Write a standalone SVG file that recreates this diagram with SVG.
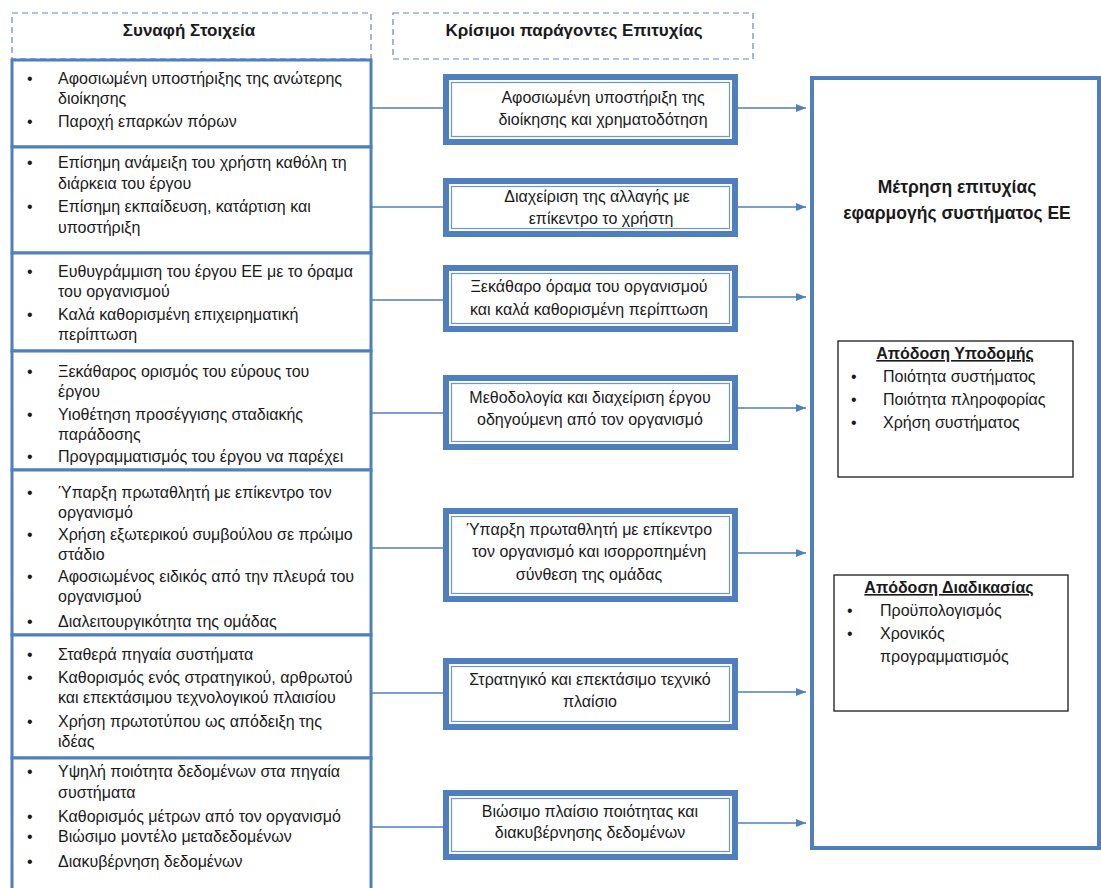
<svg xmlns="http://www.w3.org/2000/svg" width="1101" height="888" viewBox="0 0 1101 888">
  <style>
    .hdr { fill: none; stroke: #5b89c4; stroke-width: 1.2; stroke-dasharray: 6 4; }
    .ctx { fill: #ffffff; stroke: #4f7fbd; stroke-width: 3; }
    .csf-out { fill: #ffffff; stroke: #4f7fbd; stroke-width: 6; }
    .csf-in { fill: none; stroke: #6b97cc; stroke-width: 1.2; }
    .big { fill: #ffffff; stroke: #4f7fbd; stroke-width: 4; }
    .sub { fill: #ffffff; stroke: #1a1a1a; stroke-width: 1.3; }
    .conn { stroke: #4f7fbd; stroke-width: 1.6; fill: none; }
    text { font-family: "Liberation Sans", Arial, sans-serif; fill: #1a1a1a; }
    .t { font-size: 16px; }
    .b { font-size: 16px; font-weight: bold; }
    .h { font-size: 17px; font-weight: bold; }
    .bt { font-size: 17.5px; font-weight: bold; }
    .mid { text-anchor: middle; }
  </style>
  <defs>
    <marker id="arrow" markerWidth="10" markerHeight="8" refX="10" refY="4" orient="auto" markerUnits="userSpaceOnUse">
      <path d="M0,0 L10,4 L0,8 Z" fill="#4f7fbd"/>
    </marker>
  </defs>

  <rect width="1101" height="888" fill="#ffffff"/>

  <!-- column headers -->
  <g id="header-context">
    <rect class="hdr" x="12" y="13" width="359" height="46"/>
    <text class="h mid" x="189" y="36">Συναφή Στοιχεία</text>
  </g>
  <g id="header-csf">
    <rect class="hdr" x="393" y="13" width="360" height="46"/>
    <text class="h mid" x="574" y="36">Κρίσιμοι παράγοντες Επιτυχίας</text>
  </g>

  <!-- connectors -->
  <g id="connectors">
    <line class="conn" x1="372" y1="108" x2="443" y2="108"/>
    <line class="conn" x1="738" y1="108" x2="806" y2="108" marker-end="url(#arrow)"/>
    <line class="conn" x1="372" y1="207" x2="443" y2="207"/>
    <line class="conn" x1="738" y1="207" x2="806" y2="207" marker-end="url(#arrow)"/>
    <line class="conn" x1="372" y1="300" x2="443" y2="300"/>
    <line class="conn" x1="738" y1="297" x2="806" y2="297" marker-end="url(#arrow)"/>
    <line class="conn" x1="372" y1="413" x2="443" y2="413"/>
    <line class="conn" x1="738" y1="408" x2="806" y2="408" marker-end="url(#arrow)"/>
    <line class="conn" x1="372" y1="548" x2="443" y2="548"/>
    <line class="conn" x1="738" y1="553" x2="806" y2="553" marker-end="url(#arrow)"/>
    <line class="conn" x1="372" y1="693" x2="443" y2="693"/>
    <line class="conn" x1="738" y1="692" x2="806" y2="692" marker-end="url(#arrow)"/>
    <line class="conn" x1="372" y1="827" x2="443" y2="827"/>
    <line class="conn" x1="738" y1="823" x2="806" y2="823" marker-end="url(#arrow)"/>
  </g>

  <!-- context elements -->
  <g id="ctx-1">
    <rect class="ctx" x="12" y="60" width="359" height="87"/>
    <text class="t" x="27" y="84">•</text>
    <text class="t" x="58" y="84">Αφοσιωμένη υποστήριξης της ανώτερης</text>
    <text class="t" x="58" y="104">διοίκησης</text>
    <text class="t" x="27" y="127">•</text>
    <text class="t" x="58" y="127">Παροχή επαρκών πόρων</text>
  </g>
  <g id="ctx-2">
    <rect class="ctx" x="12" y="147" width="359" height="106"/>
    <text class="t" x="27" y="168">•</text>
    <text class="t" x="58" y="168">Επίσημη ανάμειξη του χρήστη καθόλη τη</text>
    <text class="t" x="58" y="189">διάρκεια του έργου</text>
    <text class="t" x="27" y="212">•</text>
    <text class="t" x="58" y="212">Επίσημη εκπαίδευση, κατάρτιση και</text>
    <text class="t" x="58" y="233">υποστήριξη</text>
  </g>
  <g id="ctx-3">
    <rect class="ctx" x="12" y="253" width="359" height="98"/>
    <text class="t" x="27" y="277">•</text>
    <text class="t" x="58" y="277">Ευθυγράμμιση του έργου ΕΕ με το όραμα</text>
    <text class="t" x="58" y="297">του οργανισμού</text>
    <text class="t" x="27" y="320">•</text>
    <text class="t" x="58" y="320">Καλά καθορισμένη επιχειρηματική</text>
    <text class="t" x="58" y="340">περίπτωση</text>
  </g>
  <g id="ctx-4">
    <rect class="ctx" x="12" y="351" width="359" height="119"/>
    <text class="t" x="27" y="377">•</text>
    <text class="t" x="58" y="377">Ξεκάθαρος ορισμός του εύρους του</text>
    <text class="t" x="58" y="397">έργου</text>
    <text class="t" x="27" y="420">•</text>
    <text class="t" x="58" y="420">Υιοθέτηση προσέγγισης σταδιακής</text>
    <text class="t" x="58" y="440">παράδοσης</text>
    <text class="t" x="27" y="462">•</text>
    <text class="t" x="58" y="462">Προγραμματισμός του έργου να παρέχει</text>
  </g>
  <g id="ctx-5">
    <rect class="ctx" x="12" y="470" width="359" height="165"/>
    <text class="t" x="27" y="498">•</text>
    <text class="t" x="58" y="498">Ύπαρξη πρωταθλητή με επίκεντρο τον</text>
    <text class="t" x="58" y="518">οργανισμό</text>
    <text class="t" x="27" y="540">•</text>
    <text class="t" x="58" y="540">Χρήση εξωτερικού συμβούλου σε πρώιμο</text>
    <text class="t" x="58" y="560">στάδιο</text>
    <text class="t" x="27" y="582">•</text>
    <text class="t" x="58" y="582">Αφοσιωμένος ειδικός από την πλευρά του</text>
    <text class="t" x="58" y="602">οργανισμού</text>
    <text class="t" x="27" y="627">•</text>
    <text class="t" x="58" y="627">Διαλειτουργικότητα της ομάδας</text>
  </g>
  <g id="ctx-6">
    <rect class="ctx" x="12" y="635" width="359" height="123"/>
    <text class="t" x="27" y="660">•</text>
    <text class="t" x="58" y="660">Σταθερά πηγαία συστήματα</text>
    <text class="t" x="27" y="683">•</text>
    <text class="t" x="58" y="683">Καθορισμός ενός στρατηγικού, αρθρωτού</text>
    <text class="t" x="58" y="703">και επεκτάσιμου τεχνολογικού πλαισίου</text>
    <text class="t" x="27" y="727">•</text>
    <text class="t" x="58" y="727">Χρήση πρωτοτύπου ως απόδειξη της</text>
    <text class="t" x="58" y="747">ιδέας</text>
  </g>
  <g id="ctx-7">
    <rect class="ctx" x="12" y="758" width="359" height="140"/>
    <text class="t" x="27" y="777">•</text>
    <text class="t" x="58" y="777">Υψηλή ποιότητα δεδομένων στα πηγαία</text>
    <text class="t" x="58" y="798">συστήματα</text>
    <text class="t" x="27" y="822">•</text>
    <text class="t" x="58" y="822">Καθορισμός μέτρων από τον οργανισμό</text>
    <text class="t" x="27" y="842">•</text>
    <text class="t" x="58" y="842">Βιώσιμο μοντέλο μεταδεδομένων</text>
    <text class="t" x="27" y="867">•</text>
    <text class="t" x="58" y="867">Διακυβέρνηση δεδομένων</text>
  </g>

  <!-- critical success factors -->
  <g id="csf-1">
    <rect class="csf-out" x="446" y="77" width="289" height="65"/>
    <rect class="csf-in" x="451.5" y="82.5" width="278" height="54"/>
    <text class="t mid" x="603" y="103">Αφοσιωμένη υποστήριξη της</text>
    <text class="t mid" x="603" y="125">διοίκησης και χρηματοδότηση</text>
  </g>
  <g id="csf-2">
    <rect class="csf-out" x="446" y="181" width="289" height="53"/>
    <rect class="csf-in" x="451.5" y="186.5" width="278" height="42"/>
    <text class="t mid" x="597" y="202">Διαχείριση της αλλαγής με</text>
    <text class="t mid" x="601" y="224">επίκεντρο το χρήστη</text>
  </g>
  <g id="csf-3">
    <rect class="csf-out" x="446" y="268" width="289" height="61"/>
    <rect class="csf-in" x="451.5" y="273.5" width="278" height="50"/>
    <text class="t mid" x="589" y="292">Ξεκάθαρο όραμα του οργανισμού</text>
    <text class="t mid" x="589" y="315">και καλά καθορισμένη περίπτωση</text>
  </g>
  <g id="csf-4">
    <rect class="csf-out" x="446" y="378" width="289" height="69"/>
    <rect class="csf-in" x="451.5" y="383.5" width="278" height="58"/>
    <text class="t mid" x="590" y="403">Μεθοδολογία και διαχείριση έργου</text>
    <text class="t mid" x="590" y="425">οδηγούμενη από τον οργανισμό</text>
  </g>
  <g id="csf-5">
    <rect class="csf-out" x="446" y="511" width="289" height="88"/>
    <rect class="csf-in" x="451.5" y="516.5" width="278" height="77"/>
    <text class="t mid" x="589" y="535">Ύπαρξη πρωταθλητή με επίκεντρο</text>
    <text class="t mid" x="589" y="557">τον οργανισμό και ισορροπημένη</text>
    <text class="t mid" x="589" y="580">σύνθεση της ομάδας</text>
  </g>
  <g id="csf-6">
    <rect class="csf-out" x="446" y="661" width="289" height="66"/>
    <rect class="csf-in" x="451.5" y="666.5" width="278" height="55"/>
    <text class="t mid" x="590" y="685">Στρατηγικό και επεκτάσιμο τεχνικό</text>
    <text class="t mid" x="590" y="707">πλαίσιο</text>
  </g>
  <g id="csf-7">
    <rect class="csf-out" x="446" y="793" width="289" height="64"/>
    <rect class="csf-in" x="451.5" y="798.5" width="278" height="53"/>
    <text class="t mid" x="590" y="817">Βιώσιμο πλαίσιο ποιότητας και</text>
    <text class="t mid" x="590" y="838">διακυβέρνησης δεδομένων</text>
  </g>

  <!-- success measurement -->
  <g id="measurement">
    <rect class="big" x="812" y="78" width="287" height="770"/>
    <text class="bt mid" x="957" y="193">Μέτρηση επιτυχίας</text>
    <text class="bt mid" x="957" y="219">εφαρμογής συστήματος ΕΕ</text>
  </g>
  <g id="infrastructure">
    <rect class="sub" x="838" y="341" width="235" height="136"/>
    <text class="b mid" x="955" y="359" text-decoration="underline">Απόδοση Υποδομής</text>
    <text class="t" x="851" y="382">•</text>
    <text class="t" x="883" y="382">Ποιότητα συστήματος</text>
    <text class="t" x="851" y="405">•</text>
    <text class="t" x="883" y="405">Ποιότητα πληροφορίας</text>
    <text class="t" x="851" y="428">•</text>
    <text class="t" x="883" y="428">Χρήση συστήματος</text>
  </g>
  <g id="process">
    <rect class="sub" x="834" y="575" width="234" height="136"/>
    <text class="b mid" x="949" y="593" text-decoration="underline">Απόδοση Διαδικασίας</text>
    <text class="t" x="847" y="616">•</text>
    <text class="t" x="880" y="616">Προϋπολογισμός</text>
    <text class="t" x="847" y="639">•</text>
    <text class="t" x="880" y="639">Χρονικός</text>
    <text class="t" x="880" y="662">προγραμματισμός</text>
  </g>
</svg>
